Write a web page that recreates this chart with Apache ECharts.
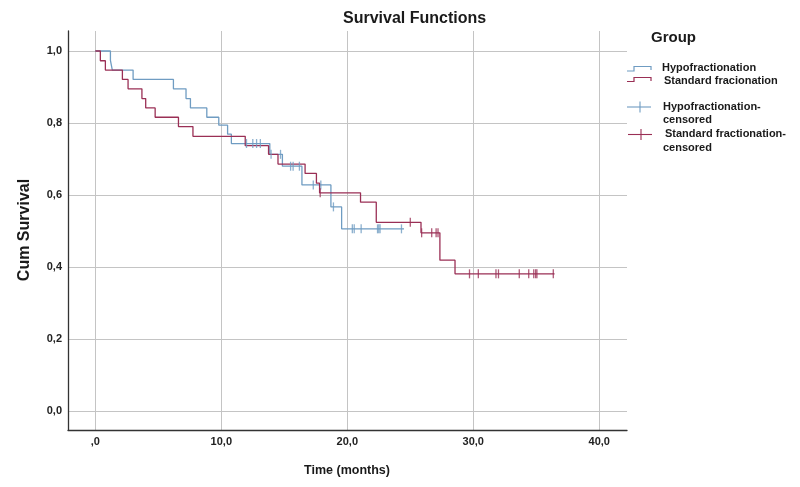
<!DOCTYPE html>
<html>
<head>
<meta charset="utf-8">
<script src="https://cdn.jsdelivr.net/npm/echarts@6/dist/echarts.min.js"></script>
<style>
  html, body { margin: 0; padding: 0; background: #fff; }
  #chart { width: 800px; height: 487px; }
</style>
</head>
<body>
<div id="chart"></div>
<script>
  // Kaplan-Meier steps: time (months) and survival after each drop
  const hypoTimes = [0, 1.2, 1.35, 3.0, 6.2, 7.2, 7.55, 8.85, 9.8, 10.5, 10.8, 13.85, 14.85, 16.4, 18.7, 19.55, 24.5];
  const hypoSurv  = [1, 0.974, 0.947, 0.921, 0.895, 0.868, 0.842, 0.816, 0.794, 0.769, 0.743, 0.713, 0.68, 0.628, 0.567, 0.506, 0.506];
  const hypoCensored = [12.0, 12.5, 12.8, 13.1, 13.95, 14.7, 15.5, 15.7, 16.2, 17.3, 17.9, 18.9, 20.4, 20.55, 21.1, 22.4, 22.5, 22.6, 24.3];

  const stdTimes = [0, 0.4, 0.8, 2.15, 2.6, 3.7, 4.0, 4.75, 6.6, 7.75, 11.9, 13.75, 14.5, 16.65, 17.55, 17.8, 21.05, 22.3, 25.85, 27.35, 28.55, 36.45];
  const stdSurv  = [1, 0.973, 0.947, 0.921, 0.895, 0.868, 0.842, 0.816, 0.79, 0.763, 0.737, 0.713, 0.686, 0.66, 0.633, 0.606, 0.58, 0.524, 0.495, 0.419, 0.381, 0.381];
  const stdCensored = [17.85, 25.0, 25.9, 26.7, 27.05, 27.2, 29.7, 30.4, 31.8, 32.0, 33.65, 34.4, 34.8, 34.95, 35.05, 36.35];

  const xTicks = [0, 10, 20, 30, 40];
  const yTicks = [0, 0.2, 0.4, 0.6, 0.8, 1.0];

  const BLUE = '#6f9cc2';
  const RED = '#9a2f55';
  const FONT = '"Liberation Sans", Arial, sans-serif';

  function steps(times, surv) { return times.map((t, i) => [t, surv[i]]); }

  function survAt(times, surv, t) {
    let s = surv[0];
    times.forEach((tt, i) => { if (tt <= t) s = surv[i]; });
    return s;
  }

  function marks(cens, times, surv) { return cens.map((t) => [t, survAt(times, surv, t)]); }

  // SPSS style: ",0" on the time axis, "0,0" on the survival axis
  const xFmt = (v) => (v === 0 ? ',0' : v.toFixed(1).replace('.', ','));
  const yFmt = (v) => v.toFixed(1).replace('.', ',');

  const chart = echarts.init(document.getElementById('chart'));

  const label = (text, x, y, size, align, rotation) => ({
    type: 'text', x, y, rotation: rotation || 0,
    style: {
      text, font: `bold ${size}px ${FONT}`, fill: '#1a1a1a',
      textAlign: align || 'left', align: align || 'left',
      textVerticalAlign: 'middle', verticalAlign: 'middle'
    }
  });

  const axisText = { fontFamily: FONT, fontSize: 11, fontWeight: 'bold', color: '#222' };

  chart.setOption({
    animation: false,
    backgroundColor: '#fff',
    title: {
      text: 'Survival Functions',
      left: 343, top: 11, padding: 0,
      textStyle: { fontFamily: FONT, fontSize: 16, fontWeight: 'bold', color: '#1a1a1a' }
    },
    grid: { left: 68, right: 173, top: 31, bottom: 57 },
    xAxis: {
      type: 'value',
      min: -2.167, max: 42.2,
      axisLine: { show: true, onZero: false, lineStyle: { color: '#333', width: 1.3 } },
      axisTick: { show: false, customValues: xTicks },
      axisLabel: Object.assign({ customValues: xTicks, margin: 6, formatter: xFmt }, axisText),
      splitLine: { show: true, lineStyle: { color: '#c4c4c4', width: 1 } }
    },
    yAxis: {
      type: 'value',
      min: -0.0528, max: 1.0556,
      axisLine: { show: true, onZero: false, lineStyle: { color: '#333', width: 1.3 } },
      axisTick: { show: false, customValues: yTicks },
      axisLabel: Object.assign({ customValues: yTicks, margin: 6, formatter: yFmt }, axisText),
      splitLine: { show: true, lineStyle: { color: '#c4c4c4', width: 1 } }
    },
    series: [
      {
        name: 'Hypofractionation', type: 'line', step: 'end', showSymbol: false,
        lineStyle: { color: BLUE, width: 1.3 }, data: steps(hypoTimes, hypoSurv), z: 3
      },
      {
        name: 'Standard fracionation', type: 'line', step: 'end', showSymbol: false,
        lineStyle: { color: RED, width: 1.3 }, data: steps(stdTimes, stdSurv), z: 4
      },
      {
        name: 'Hypofractionation-censored', type: 'scatter', symbol: 'rect', symbolSize: [1.3, 9],
        itemStyle: { color: BLUE }, data: marks(hypoCensored, hypoTimes, hypoSurv), z: 5
      },
      {
        name: 'Standard fractionation-censored', type: 'scatter', symbol: 'rect', symbolSize: [1.3, 9],
        itemStyle: { color: RED }, data: marks(stdCensored, stdTimes, stdSurv), z: 6
      }
    ],
    graphic: [
      label('Cum Survival', 25, 230, 16, 'center', Math.PI / 2),
      label('Time (months)', 347, 471, 12.5, 'center'),
      label('Group', 651, 38, 15),
      // legend icons
      { type: 'polyline', shape: { points: [[627, 71], [634, 71], [634, 66.5], [651, 66.5], [651, 70]] }, style: { stroke: BLUE, lineWidth: 1.2, fill: null } },
      { type: 'polyline', shape: { points: [[627, 81.5], [634, 81.5], [634, 77.5], [651, 77.5], [651, 81]] }, style: { stroke: RED, lineWidth: 1.2, fill: null } },
      { type: 'line', shape: { x1: 627, y1: 107, x2: 651, y2: 107 }, style: { stroke: BLUE, lineWidth: 1.1 } },
      { type: 'line', shape: { x1: 640, y1: 101.5, x2: 640, y2: 112.5 }, style: { stroke: BLUE, lineWidth: 1.1 } },
      { type: 'line', shape: { x1: 628, y1: 134.5, x2: 652, y2: 134.5 }, style: { stroke: RED, lineWidth: 1.1 } },
      { type: 'line', shape: { x1: 641, y1: 129, x2: 641, y2: 140 }, style: { stroke: RED, lineWidth: 1.1 } },
      label('Hypofractionation', 662, 68, 11),
      label('Standard fracionation', 664, 81, 11),
      label('Hypofractionation-', 663, 107, 11),
      label('censored', 663, 120, 11),
      label('Standard fractionation-', 665, 134, 11),
      label('censored', 663, 147.5, 11)
    ]
  });
</script>
</body>
</html>
